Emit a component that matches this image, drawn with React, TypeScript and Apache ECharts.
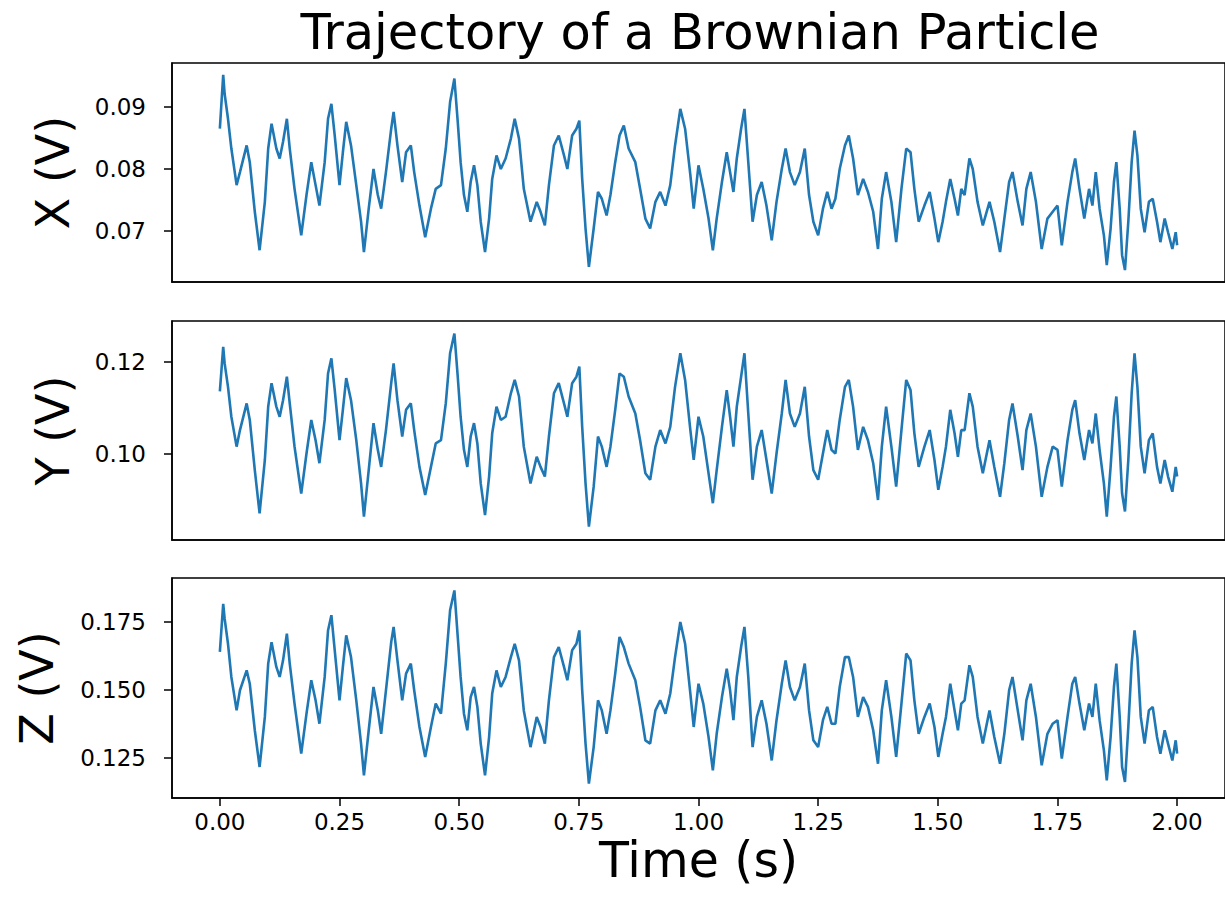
import React, { useEffect, useRef } from "react";
import * as echarts from "echarts";

// Time (s) of the traced points, shared by the three channels
const time: number[] = [
  0.000, 0.007, 0.010, 0.017, 0.024, 0.035, 0.042, 0.056, 0.0625, 0.073, 0.083, 0.094, 0.101, 0.108, 0.118, 0.125,
  0.132, 0.140, 0.146, 0.156, 0.170, 0.181, 0.191, 0.200, 0.208, 0.219, 0.226, 0.233, 0.240, 0.250, 0.257, 0.264,
  0.274, 0.285, 0.295, 0.301, 0.311, 0.321, 0.330, 0.337, 0.347, 0.358, 0.363, 0.371, 0.381, 0.389, 0.399, 0.406,
  0.417, 0.429, 0.441, 0.451, 0.462, 0.472, 0.481, 0.490,
  0.497, 0.503, 0.510, 0.517, 0.524, 0.531, 0.538, 0.545, 0.554, 0.5625, 0.569, 0.578, 0.587, 0.597, 0.608, 0.616,
  0.625, 0.635, 0.649, 0.662, 0.670, 0.679, 0.6875, 0.698, 0.708, 0.719, 0.726, 0.736, 0.745, 0.751, 0.757, 0.764,
  0.771, 0.781, 0.790, 0.798, 0.808, 0.816, 0.826, 0.835, 0.844, 0.854, 0.868, 0.878, 0.889, 0.899, 0.910, 0.920,
  0.931, 0.941, 0.951, 0.962, 0.972, 0.983, 0.990, 1.000,
  1.010, 1.021, 1.030, 1.038, 1.049, 1.059, 1.066, 1.073, 1.080, 1.089, 1.096, 1.104, 1.113, 1.122, 1.132, 1.142,
  1.153, 1.163, 1.174, 1.182, 1.191, 1.201, 1.212, 1.222, 1.231, 1.240, 1.250, 1.260, 1.269, 1.278, 1.286, 1.295,
  1.306, 1.314, 1.323, 1.333, 1.344, 1.354, 1.365, 1.375, 1.383, 1.392, 1.403, 1.413, 1.424, 1.434, 1.443, 1.451,
  1.460, 1.472, 1.483, 1.493, 1.501, 1.510,
  1.517, 1.526, 1.535, 1.542, 1.549, 1.556, 1.566, 1.573, 1.583, 1.594, 1.608, 1.618, 1.630, 1.639, 1.649, 1.656,
  1.667, 1.677, 1.685, 1.694, 1.705, 1.717, 1.729, 1.740, 1.750, 1.759, 1.771, 1.781, 1.787, 1.796, 1.806, 1.816,
  1.823, 1.830, 1.838, 1.847, 1.853, 1.861, 1.868, 1.873, 1.880, 1.885, 1.891, 1.898, 1.905, 1.911, 1.917, 1.924,
  1.932, 1.941, 1.949, 1.958, 1.965, 1.974, 1.981, 1.990, 1.997, 2.000,
];

// X channel (V)
const xVolts: number[] = [
  0.0865, 0.0952, 0.0921, 0.0881, 0.0833, 0.0774, 0.0795, 0.0838, 0.0811, 0.0731, 0.0669, 0.0747, 0.0833, 0.0873, 0.0833, 0.0817,
  0.0844, 0.0881, 0.0833, 0.0768, 0.0693, 0.0758, 0.0811, 0.0774, 0.0741, 0.0811, 0.0881, 0.0905, 0.0854, 0.0774, 0.0827, 0.0876,
  0.0838, 0.0774, 0.0715, 0.0666, 0.0736, 0.0800, 0.0758, 0.0736, 0.0795, 0.0865, 0.0892, 0.0838, 0.0779, 0.0827, 0.0838, 0.0795,
  0.0741, 0.0690, 0.0736, 0.0768, 0.0774, 0.0833, 0.0908, 0.0946,
  0.0876, 0.0811, 0.0758, 0.0731, 0.0779, 0.0806, 0.0774, 0.0715, 0.0666, 0.0720, 0.0784, 0.0822, 0.0800, 0.0817, 0.0849, 0.0881,
  0.0849, 0.0768, 0.0715, 0.0747, 0.0731, 0.0709, 0.0774, 0.0838, 0.0854, 0.0822, 0.0800, 0.0854, 0.0865, 0.0878, 0.0784, 0.0704,
  0.0642, 0.0704, 0.0763, 0.0752, 0.0725, 0.0758, 0.0811, 0.0854, 0.0870, 0.0833, 0.0811, 0.0768, 0.0720, 0.0704, 0.0747, 0.0763,
  0.0741, 0.0774, 0.0838, 0.0897, 0.0865, 0.0790, 0.0736, 0.0806,
  0.0768, 0.0720, 0.0669, 0.0720, 0.0779, 0.0827, 0.0795, 0.0763, 0.0817, 0.0865, 0.0897, 0.0811, 0.0715, 0.0758, 0.0779, 0.0741,
  0.0685, 0.0747, 0.0800, 0.0833, 0.0795, 0.0774, 0.0795, 0.0833, 0.0758, 0.0715, 0.0693, 0.0736, 0.0763, 0.0736, 0.0752, 0.0800,
  0.0838, 0.0854, 0.0817, 0.0758, 0.0784, 0.0763, 0.0731, 0.0671, 0.0752, 0.0795, 0.0747, 0.0682, 0.0768, 0.0833, 0.0827, 0.0768,
  0.0715, 0.0741, 0.0763, 0.0720, 0.0682, 0.0715,
  0.0747, 0.0784, 0.0752, 0.0725, 0.0768, 0.0758, 0.0817, 0.0800, 0.0747, 0.0709, 0.0747, 0.0715, 0.0666, 0.0720, 0.0779, 0.0795,
  0.0747, 0.0709, 0.0768, 0.0795, 0.0747, 0.0671, 0.0720, 0.0731, 0.0741, 0.0677, 0.0747, 0.0795, 0.0817, 0.0768, 0.0720, 0.0768,
  0.0741, 0.0795, 0.0736, 0.0693, 0.0645, 0.0704, 0.0779, 0.0811, 0.0736, 0.0661, 0.0637, 0.0715, 0.0811, 0.0862, 0.0822, 0.0736,
  0.0698, 0.0747, 0.0752, 0.0715, 0.0682, 0.0720, 0.0698, 0.0671, 0.0698, 0.0677,
];

// Y channel (V)
const yVolts: number[] = [
  0.1136, 0.1233, 0.1197, 0.1146, 0.1081, 0.1016, 0.1052, 0.1110, 0.1074, 0.0965, 0.0871, 0.0987, 0.1103, 0.1154, 0.1103, 0.1081,
  0.1117, 0.1168, 0.1110, 0.1016, 0.0914, 0.1001, 0.1074, 0.1030, 0.0980, 0.1074, 0.1175, 0.1208, 0.1139, 0.1030, 0.1096, 0.1165,
  0.1117, 0.1030, 0.0936, 0.0864, 0.0965, 0.1067, 0.1009, 0.0972, 0.1052, 0.1154, 0.1197, 0.1117, 0.1038, 0.1096, 0.1110, 0.1052,
  0.0972, 0.0911, 0.0972, 0.1023, 0.1030, 0.1110, 0.1219, 0.1262,
  0.1168, 0.1081, 0.1009, 0.0972, 0.1038, 0.1067, 0.1023, 0.0936, 0.0867, 0.0951, 0.1045, 0.1103, 0.1074, 0.1081, 0.1132, 0.1161,
  0.1125, 0.1016, 0.0936, 0.0994, 0.0972, 0.0951, 0.1038, 0.1132, 0.1154, 0.1110, 0.1081, 0.1154, 0.1168, 0.1190, 0.1059, 0.0936,
  0.0842, 0.0929, 0.1038, 0.1016, 0.0972, 0.1016, 0.1096, 0.1175, 0.1168, 0.1125, 0.1088, 0.1030, 0.0958, 0.0944, 0.1016, 0.1052,
  0.1023, 0.1059, 0.1146, 0.1219, 0.1161, 0.1052, 0.0987, 0.1081,
  0.1038, 0.0958, 0.0893, 0.0965, 0.1059, 0.1139, 0.1081, 0.1016, 0.1103, 0.1168, 0.1219, 0.1088, 0.0944, 0.1016, 0.1052, 0.0987,
  0.0914, 0.1001, 0.1088, 0.1161, 0.1088, 0.1059, 0.1088, 0.1146, 0.1038, 0.0965, 0.0944, 0.1001, 0.1052, 0.1009, 0.1001, 0.1074,
  0.1146, 0.1161, 0.1103, 0.1009, 0.1059, 0.1030, 0.0980, 0.0900, 0.1016, 0.1103, 0.1016, 0.0929, 0.1052, 0.1161, 0.1139, 0.1045,
  0.0972, 0.1016, 0.1052, 0.0987, 0.0922, 0.0972,
  0.1016, 0.1096, 0.1045, 0.0994, 0.1052, 0.1052, 0.1132, 0.1103, 0.1016, 0.0958, 0.1030, 0.0972, 0.0907, 0.0980, 0.1074, 0.1110,
  0.1038, 0.0965, 0.1052, 0.1088, 0.1016, 0.0907, 0.0972, 0.1016, 0.1009, 0.0929, 0.1030, 0.1096, 0.1117, 0.1045, 0.0987, 0.1052,
  0.1023, 0.1088, 0.1009, 0.0936, 0.0864, 0.0972, 0.1081, 0.1125, 0.1016, 0.0914, 0.0875, 0.0987, 0.1132, 0.1219, 0.1146, 0.1016,
  0.0958, 0.1030, 0.1045, 0.0972, 0.0936, 0.0987, 0.0951, 0.0918, 0.0972, 0.0951,
];

// Z channel (V)
const zVolts: number[] = [
  0.1640, 0.1817, 0.1762, 0.1670, 0.1548, 0.1425, 0.1499, 0.1572, 0.1523, 0.1352, 0.1217, 0.1401, 0.1597, 0.1676, 0.1585, 0.1548,
  0.1609, 0.1707, 0.1597, 0.1450, 0.1266, 0.1413, 0.1536, 0.1462, 0.1376, 0.1548, 0.1719, 0.1775, 0.1646, 0.1462, 0.1585, 0.1701,
  0.1621, 0.1462, 0.1303, 0.1186, 0.1352, 0.1511, 0.1425, 0.1339, 0.1499, 0.1676, 0.1732, 0.1609, 0.1462, 0.1560, 0.1597, 0.1499,
  0.1364, 0.1254, 0.1364, 0.1450, 0.1413, 0.1597, 0.1793, 0.1866,
  0.1695, 0.1548, 0.1413, 0.1352, 0.1474, 0.1511, 0.1438, 0.1303, 0.1186, 0.1327, 0.1487, 0.1572, 0.1511, 0.1548, 0.1621, 0.1670,
  0.1609, 0.1425, 0.1290, 0.1401, 0.1364, 0.1303, 0.1462, 0.1621, 0.1658, 0.1585, 0.1536, 0.1646, 0.1670, 0.1719, 0.1499, 0.1303,
  0.1156, 0.1290, 0.1462, 0.1425, 0.1339, 0.1425, 0.1560, 0.1695, 0.1658, 0.1597, 0.1536, 0.1438, 0.1315, 0.1303, 0.1425, 0.1462,
  0.1413, 0.1487, 0.1621, 0.1750, 0.1670, 0.1487, 0.1364, 0.1523,
  0.1450, 0.1327, 0.1205, 0.1339, 0.1474, 0.1578, 0.1499, 0.1389, 0.1548, 0.1658, 0.1732, 0.1548, 0.1290, 0.1401, 0.1462, 0.1376,
  0.1241, 0.1389, 0.1523, 0.1609, 0.1511, 0.1462, 0.1511, 0.1597, 0.1425, 0.1315, 0.1290, 0.1389, 0.1438, 0.1376, 0.1376, 0.1511,
  0.1621, 0.1621, 0.1548, 0.1401, 0.1474, 0.1438, 0.1352, 0.1229, 0.1425, 0.1536, 0.1401, 0.1254, 0.1450, 0.1634, 0.1609, 0.1462,
  0.1339, 0.1401, 0.1450, 0.1364, 0.1254, 0.1339,
  0.1401, 0.1523, 0.1425, 0.1352, 0.1450, 0.1462, 0.1591, 0.1548, 0.1401, 0.1303, 0.1425, 0.1327, 0.1229, 0.1339, 0.1499, 0.1548,
  0.1425, 0.1315, 0.1462, 0.1523, 0.1401, 0.1223, 0.1339, 0.1376, 0.1389, 0.1248, 0.1401, 0.1523, 0.1548, 0.1450, 0.1352, 0.1450,
  0.1401, 0.1523, 0.1389, 0.1278, 0.1168, 0.1327, 0.1511, 0.1597, 0.1401, 0.1217, 0.1162, 0.1364, 0.1597, 0.1719, 0.1621, 0.1401,
  0.1303, 0.1425, 0.1438, 0.1327, 0.1266, 0.1352, 0.1303, 0.1241, 0.1315, 0.1266,
];

const timeTicks: number[] = [0, 0.25, 0.5, 0.75, 1.0, 1.25, 1.5, 1.75, 2.0];
const xTicks: number[] = [0.07, 0.08, 0.09];
const yTicks: number[] = [0.1, 0.12];
const zTicks: number[] = [0.125, 0.15, 0.175];

const FONT = "DejaVu Sans";
const LINE_COLOR = "#1f77b4";

export default function App() {
  const ref = useRef<HTMLDivElement>(null);

  useEffect(() => {
    if (!ref.current) return;
    const chart = echarts.init(ref.current, null, { renderer: "svg" });

    const grids = [
      { left: 172, top: 63, width: 1056, height: 219 },
      { left: 172, top: 321, width: 1056, height: 219 },
      { left: 172, top: 578, width: 1056, height: 220 },
    ].map((g) => ({
      ...g,
      show: true,
      borderColor: "#000",
      borderWidth: 1.5,
      backgroundColor: "transparent",
    }));

    const channels = [
      { name: "X (V)", values: xVolts, ticks: xTicks, min: 0.061774, max: 0.097097, digits: 2 },
      { name: "Y (V)", values: yVolts, ticks: yTicks, min: 0.081304, max: 0.128913, digits: 2 },
      { name: "Z (V)", values: zVolts, ticks: zTicks, min: 0.110294, max: 0.191176, digits: 3 },
    ];

    const xAxes = channels.map((_, i) => {
      const last = i === channels.length - 1;
      return {
        type: "value",
        gridIndex: i,
        position: "bottom",
        min: -0.1,
        max: 2.1,
        splitLine: { show: false },
        axisLine: { show: true, onZero: false, lineStyle: { color: "#000", width: 1.5 } },
        axisTick: {
          show: last,
          customValues: timeTicks,
          length: 8,
          lineStyle: { color: "#000", width: 1.5 },
        },
        axisLabel: {
          show: last,
          customValues: timeTicks,
          formatter: (v: number) => v.toFixed(2),
          fontSize: 23,
          fontFamily: FONT,
          color: "#000",
          margin: 12,
        },
        name: last ? "Time (s)" : "",
        nameLocation: "middle",
        nameGap: 38,
        nameTextStyle: { fontSize: 49, fontFamily: FONT, color: "#000" },
      };
    });

    const yAxes = channels.map((c, i) => ({
      type: "value",
      gridIndex: i,
      position: "left",
      min: c.min,
      max: c.max,
      splitLine: { show: false },
      axisLine: { show: true, onZero: false, lineStyle: { color: "#000", width: 1.5 } },
      axisTick: {
        show: true,
        inside: false,
        customValues: c.ticks,
        length: 8,
        lineStyle: { color: "#000", width: 1.5 },
      },
      axisLabel: {
        customValues: c.ticks,
        formatter: (v: number) => v.toFixed(c.digits),
        fontSize: 23,
        fontFamily: FONT,
        color: "#000",
        margin: 26,
      },
      name: c.name,
      nameLocation: "middle",
      nameGap: c.digits === 3 ? 112 : 96,
      nameRotate: 90,
      nameTextStyle: { fontSize: 46, fontFamily: FONT, color: "#000" },
    }));

    const series = channels.map((c, i) => ({
      type: "line",
      xAxisIndex: i,
      yAxisIndex: i,
      showSymbol: false,
      symbol: "none",
      data: time.map((t, k) => [t, c.values[k]]),
      lineStyle: { color: LINE_COLOR, width: 2.6 },
      clip: true,
    }));

    chart.setOption({
      animation: false,
      backgroundColor: "#fff",
      grid: grids,
      xAxis: xAxes,
      yAxis: yAxes,
      series,
      graphic: [
        {
          type: "text",
          x: 700,
          y: 32,
          style: {
            text: "Trajectory of a Brownian Particle",
            font: `49.5px "${FONT}"`,
            fill: "#000",
            textAlign: "center",
            textVerticalAlign: "middle",
          },
        },
      ],
    });

    return () => chart.dispose();
  }, []);

  return (
    <div
      ref={ref}
      style={{ position: "absolute", left: 0, top: 0, width: 1225, height: 903 }}
    />
  );
}
